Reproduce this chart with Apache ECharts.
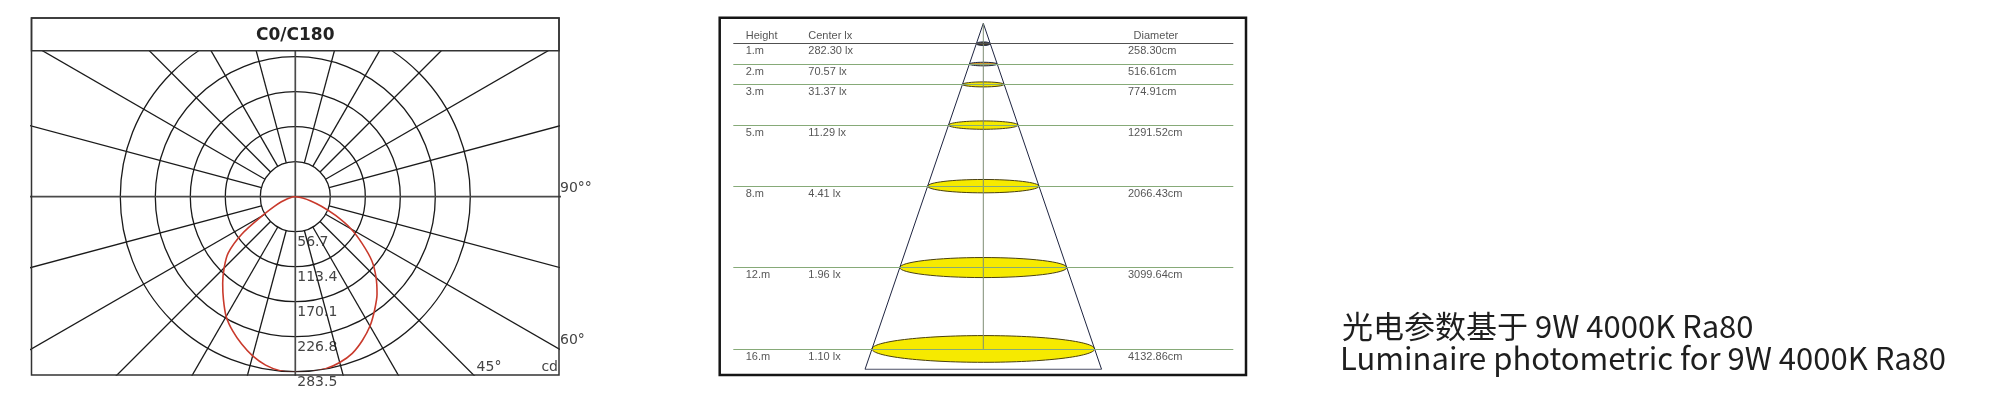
<!DOCTYPE html>
<html><head><meta charset="utf-8">
<script src="https://cdn.jsdelivr.net/npm/echarts@6/dist/echarts.min.js"></script>
<style>html,body{margin:0;padding:0;background:#fff;}#c{width:2000px;height:400px;}</style>
</head><body><div id="c"></div>
<script>
// ---------- polar (C0/C180) data ----------
const gammaAngles   = [0,5,10,15,20,25,30,35,40,45,50,55,60,65,70,75,80,85,90];
const intensityC0   = [285,285,283,278,270,257,242,224,206,185,162,132,104,72,45,25,12,4,0];
const intensityC180 = [285,283,277,267,254,240,224,203,183,163,142,106,62,38,24,14,7,2,0];
const radiusTicks   = [56.7,113.4,170.1,226.8,283.5];
const gridAngles    = [0,15,30,45,60,75,90,105,120,135,150,165,180,195,210,225,240,255,270,285,300,315,330,345];
const polarTitle    = 'C0/C180';
const angleLabels   = ['90°°','60°','45°','cd'];
// ---------- cone data ----------
const heights      = [1,2,3,5,8,12,16];
const heightLabels = ['1.m','2.m','3.m','5.m','8.m','12.m','16.m'];
const centerLux    = [282.30,70.57,31.37,11.29,4.41,1.96,1.10];
const diameters    = [258.30,516.61,774.91,1291.52,2066.43,3099.64,4132.86];
const coneHeaders  = ['Height','Center lx','Diameter'];
// ---------- caption ----------
const captionLines = ['光电参数基于 9W 4000K Ra80','Luminaire photometric for 9W 4000K Ra80'];

// ---------- layout ----------
const CX=295.3, CY=196.7, R=175, RMAX=radiusTicks[radiusTicks.length-1];
const BOX_L=31.5, BOX_R=559, BOX_T=18, SEP=50.7, BOX_B=375;
const K=RMAX/R;
const C_LEFT=733.3, C_W=500, C_TOP=23.35, PX_M=20.35, C_DEPTH=17;
const C_CX=C_LEFT+C_W/2, PX_CM=0.05387, XHALF=C_W/2/PX_CM;
const toCm = px => (px-C_CX)/PX_CM;

const rad = a => a*Math.PI/180;
const series = [];
// radial grid lines (cartesian, clipped to box)
gridAngles.forEach(a=>{
  const full = a%90===0;
  const r0 = full?0:radiusTicks[0], r1=2000;
  series.push({type:'line',xAxisIndex:0,yAxisIndex:0,silent:true,symbol:'none',clip:true,z:2,
    lineStyle:{color:full?'#4a4a4a':'#1a1a1a',width:full?1.7:1.3},
    data:[[r0*Math.sin(rad(a)),-r0*Math.cos(rad(a))],[r1*Math.sin(rad(a)),-r1*Math.cos(rad(a))]]});
});
// intensity curve (polar)
const curve=[];
for(let i=gammaAngles.length-1;i>=1;i--) curve.push([intensityC180[i],360-gammaAngles[i]]);
for(let i=0;i<gammaAngles.length;i++) curve.push([intensityC0[i],gammaAngles[i]]);
series.push({type:'line',coordinateSystem:'polar',polarIndex:0,data:curve,symbol:'none',smooth:0.3,silent:true,z:5,
  lineStyle:{color:'#c93a2c',width:1.6}});

// cone: ellipses
series.push({type:'custom',xAxisIndex:1,yAxisIndex:1,z:1,silent:true,
  data:heights.map((h,i)=>[diameters[i],h]),
  renderItem:(params,api)=>{
    const d=api.value(0), h=api.value(1);
    const c=api.coord([0,h]);
    const rx=api.size([d/2,0])[0];
    const ry=Math.max(rx*0.12,1.8);
    const idx=params.dataIndex;
    const fill= idx===0?'#4a3c22': idx===1?'#d79a2c':'#f6ea00';
    return {type:'ellipse',shape:{cx:c[0],cy:c[1],rx:rx,ry:ry},
      style:{fill:fill,stroke:idx<2?'#1c2848':'#4a4010',lineWidth:1}};
  }});
// cone outline
const halfRate = diameters[diameters.length-1]/heights[heights.length-1]/2;
series.push({type:'line',xAxisIndex:1,yAxisIndex:1,silent:true,symbol:'none',z:4,
  lineStyle:{color:'#1e2440',width:1},
  data:[[-halfRate*C_DEPTH,C_DEPTH],[0,0],[halfRate*C_DEPTH,C_DEPTH],[-halfRate*C_DEPTH,C_DEPTH]],
  markLine:{silent:true,symbol:'none',label:{show:false},animation:false,
    data:heights.map((h,i)=>({yAxis:h,lineStyle:{type:'solid',width:1,color:i===0?'#505050':'#86aa78'}}))}});
// center vertical line
series.push({type:'line',xAxisIndex:1,yAxisIndex:1,silent:true,symbol:'none',z:4,
  lineStyle:{color:'#7d8c74',width:1},data:[[0,0],[0,heights[heights.length-1]]]});
// table text
const tStyle={fontFamily:'Liberation Sans, Arial',fontSize:11,color:'#2a2a2a'};
function textCol(px, labels, dy){
  series.push({type:'scatter',xAxisIndex:1,yAxisIndex:1,symbolSize:0,silent:true,z:6,
    data:heights.map((h,i)=>({value:[toCm(px),h],label:{formatter:labels[i]}})),
    label:Object.assign({show:true,position:[0,dy],align:'left',verticalAlign:'middle'},tStyle)});
}
textCol(745.7, heightLabels, 7.6);
textCol(808.3, centerLux.map(v=>v.toFixed(2)+' lx'), 7.6);
textCol(1128, diameters.map(v=>v.toFixed(2)+'cm'), 7.6);
series.push({type:'scatter',xAxisIndex:1,yAxisIndex:1,symbolSize:0,silent:true,z:6,
  data:[[toCm(745.7),heights[0],coneHeaders[0]],[toCm(808.3),heights[0],coneHeaders[1]],[toCm(1133.6),heights[0],coneHeaders[2]]],
  label:Object.assign({show:true,position:[0,-7.7],align:'left',verticalAlign:'middle',formatter:p=>p.value[2]},tStyle)});

const lblStyle={fontFamily:'DejaVu Sans',fontSize:14,fill:'#444'};
const option={
  animation:false,
  backgroundColor:'#fff',
  polar:{center:[CX,CY],radius:R},
  angleAxis:{type:'value',min:0,max:360,startAngle:-90,clockwise:false,
    axisLine:{show:false},axisTick:{show:false},axisLabel:{show:false},splitLine:{show:false}},
  radiusAxis:{type:'value',min:0,max:RMAX,interval:radiusTicks[0],
    axisLine:{show:false},axisTick:{show:false},
    splitLine:{show:true,lineStyle:{color:'#1a1a1a',width:1.3}},
    axisLabel:{show:true,showMinLabel:false,margin:2,align:'left',verticalAlign:'top',padding:[4,0,0,0],
      fontFamily:'DejaVu Sans',fontSize:14,color:'#444',
      formatter:v=>{const t=radiusTicks.find(x=>Math.abs(x-v)<0.01);return t===undefined?'':t.toFixed(1);}}},
  grid:[
    {left:BOX_L,top:SEP,width:BOX_R-BOX_L,height:BOX_B-SEP,containLabel:false,outerBoundsMode:'none'},
    {left:C_LEFT,top:C_TOP,width:C_W,height:C_DEPTH*PX_M,containLabel:false,outerBoundsMode:'none'}
  ],
  xAxis:[
    {type:'value',gridIndex:0,min:-(CX-BOX_L)*K,max:(BOX_R-CX)*K,show:false},
    {type:'value',gridIndex:1,min:-XHALF,max:XHALF,show:false}
  ],
  yAxis:[
    {type:'value',gridIndex:0,min:-(BOX_B-CY)*K,max:(CY-SEP)*K,show:false},
    {type:'value',gridIndex:1,min:0,max:C_DEPTH,inverse:true,show:false}
  ],
  series:series,
  graphic:[
    {type:'rect',z:100,shape:{x:BOX_L,y:BOX_T,width:BOX_R-BOX_L,height:SEP-BOX_T},style:{fill:'#fff',stroke:'#333',lineWidth:1.5}},
    {type:'rect',z:100,shape:{x:BOX_L,y:BOX_T,width:BOX_R-BOX_L,height:BOX_B-BOX_T},style:{fill:'none',stroke:'#333',lineWidth:1.5}},
    {type:'text',z:101,x:(BOX_L+BOX_R)/2,y:(BOX_T+SEP)/2+1,style:{text:polarTitle,font:'bold 17px "DejaVu Sans"',fill:'#222',align:'center',verticalAlign:'middle'}},
    {type:'text',z:101,x:BOX_R+1,y:CY-1,style:Object.assign({text:angleLabels[0],align:'left',verticalAlign:'bottom'},lblStyle)},
    {type:'text',z:101,x:BOX_R+1,y:CY+152-1,style:Object.assign({text:angleLabels[1],align:'left',verticalAlign:'bottom'},lblStyle)},
    {type:'text',z:101,x:CX+178.3+3,y:BOX_B-1,style:Object.assign({text:angleLabels[2],align:'left',verticalAlign:'bottom'},lblStyle)},
    {type:'text',z:101,x:BOX_R-1,y:BOX_B-1,style:Object.assign({text:angleLabels[3],align:'right',verticalAlign:'bottom'},lblStyle)},
    {type:'rect',z:100,shape:{x:719.7,y:17.7,width:1246-719.7,height:375-17.7},style:{fill:'none',stroke:'#151515',lineWidth:2.5}},
    {type:'text',z:101,x:1342,y:326,style:{text:captionLines[0],font:'31px "Noto Sans CJK SC"',fill:'#1e1e1e',align:'left',verticalAlign:'middle'}},
    {type:'text',z:101,x:1340,y:358,style:{text:captionLines[1],font:'31px "Noto Sans CJK SC"',fill:'#1e1e1e',align:'left',verticalAlign:'middle'}}
  ]
};
const chart=echarts.init(document.getElementById('c'),null,{renderer:'canvas'});
chart.setOption(option);
</script></body></html>
